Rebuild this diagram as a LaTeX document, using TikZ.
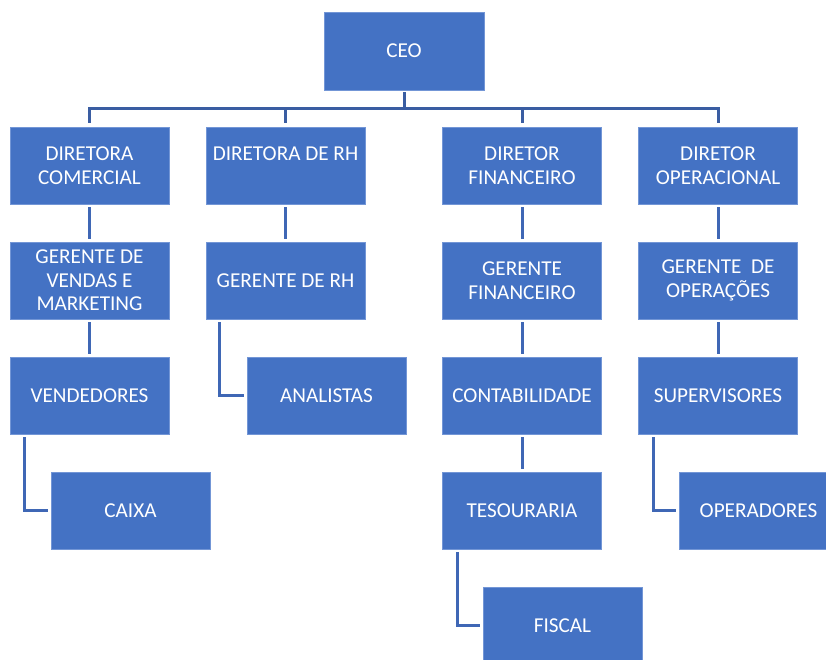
\documentclass[tikz,border=0pt]{standalone}
\usepackage{fontspec}
\setmainfont{Carlito}
\definecolor{boxblue}{HTML}{4472C4}
\definecolor{boxedge}{HTML}{7396D6}
\definecolor{busblue}{HTML}{3A5DA2}
\definecolor{linkblue}{HTML}{3F67B5}
\tikzset{
  orgbox/.style={rectangle, fill=boxblue, draw=boxedge, line width=0.6pt,
    minimum width=159pt, minimum height=77pt, inner sep=0pt,
    text=white, align=center, font=\fontsize{21.2}{23.6}\selectfont},
  bus/.style={draw=busblue, line width=3pt},
  link/.style={draw=linkblue, line width=3pt, shorten <=3pt, shorten >=3pt},
}
\begin{document}
\begin{tikzpicture}[x=1pt, y=-1pt]
  \useasboundingbox (0,0) rectangle (826,659);
  \clip (0,0) rectangle (826,659);

  % top
  \node[orgbox, minimum width=160pt, minimum height=78pt] (ceo) at (404,51) {CEO};

  % directors
  \node[orgbox] (dcom) at (89.5,165.5) {DIRETORA\\COMERCIAL};
  \node[orgbox] (drh)  at (285.5,165.5) {DIRETORA DE RH\\\mbox{}};
  \node[orgbox] (dfin) at (522,165.5) {DIRETOR\\FINANCEIRO};
  \node[orgbox] (dop)  at (718,165.5) {DIRETOR\\OPERACIONAL};

  % managers
  \node[orgbox] (gven) at (89.5,280.5) {GERENTE DE\\VENDAS E\\MARKETING};
  \node[orgbox] (grh)  at (285.5,280.5) {GERENTE DE RH};
  \node[orgbox] (gfin) at (522,280.5) {GERENTE\\FINANCEIRO};
  \node[orgbox] (gop)  at (718,280.5) {GERENTE\ \ DE\\OPERAÇÕES};

  % third level
  \node[orgbox] (vend) at (89.5,395.5) {VENDEDORES};
  \node[orgbox] (anal) at (326.5,395.5) {ANALISTAS};
  \node[orgbox] (cont) at (522,395.5) {CONTABILIDADE};
  \node[orgbox] (sup)  at (718,395.5) {SUPERVISORES};

  % fourth level
  \node[orgbox] (caixa) at (130.5,510.5) {CAIXA};
  \node[orgbox] (tes)   at (522,510.5) {TESOURARIA};
  \node[orgbox] (oper)  at (758.5,510.5) {OPERADORES};

  % fifth level
  \node[orgbox] (fisc) at (562.5,625.5) {FISCAL};

  % bus from the CEO to the directors
  \coordinate (busy) at (0,108);
  \draw[bus, shorten <=2pt] (ceo.south) -- (ceo.south |- busy);
  \draw[bus, shorten <=4pt, shorten >=4pt]
    (dcom.north) -- (dcom.north |- busy) -- (dop.north |- busy) -- (dop.north);
  \draw[bus, shorten >=4pt] (drh.north |- busy) -- (drh.north);
  \draw[bus, shorten >=4pt] (dfin.north |- busy) -- (dfin.north);

  % straight links
  \draw[link] (dcom) -- (gven);
  \draw[link] (drh) -- (grh);
  \draw[link] (dfin) -- (gfin);
  \draw[link] (dop) -- (gop);
  \draw[link] (gven) -- (vend);
  \draw[link] (gfin) -- (cont);
  \draw[link] (gop) -- (sup);
  \draw[link] (cont) -- (tes);

  % elbow links
  \draw[link] ([xshift=14pt]grh.south west) |- (anal.west);
  \draw[link] ([xshift=15pt]vend.south west) |- (caixa.west);
  \draw[link] ([xshift=15pt]sup.south west) |- (oper.west);
  \draw[link] ([xshift=15pt]tes.south west) |- (fisc.west);
\end{tikzpicture}
\end{document}
